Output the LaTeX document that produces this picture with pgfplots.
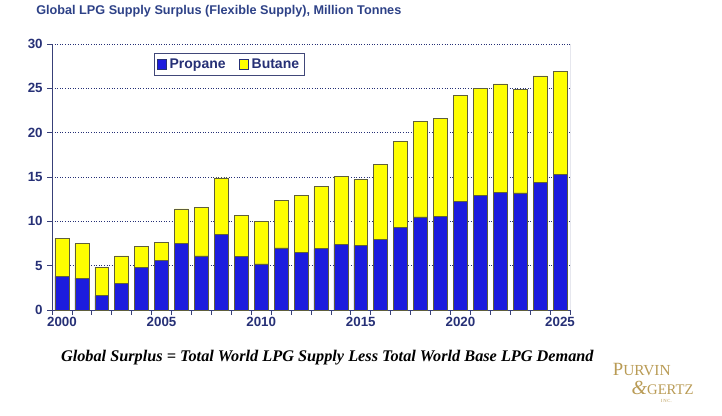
\documentclass[border=0pt]{standalone}
\usepackage{pgfplots}
\pgfplotsset{compat=1.18}
\usepackage{pgfplotstable}
\usepackage{fontspec}
\setmainfont{Liberation Sans}
\newfontfamily\timesfont{Liberation Serif}

\definecolor{navy}{RGB}{38,48,118}
\definecolor{titleblue}{RGB}{45,65,135}
\definecolor{propblue}{RGB}{28,28,222}
\definecolor{butyellow}{RGB}{255,255,0}
\definecolor{barline}{RGB}{95,95,60}
\definecolor{gold}{RGB}{185,155,85}

% year, propane, butane (million tonnes)
\pgfplotstableread{
year propane butane
2000 3.8 4.3
2001 3.6 3.9
2002 1.6 3.2
2003 3.0 3.1
2004 4.8 2.4
2005 5.6 2.0
2006 7.5 3.9
2007 6.1 5.5
2008 8.5 6.4
2009 6.0 4.7
2010 5.2 4.8
2011 7.0 5.4
2012 6.5 6.4
2013 6.9 7.0
2014 7.4 7.7
2015 7.3 7.4
2016 8.0 8.4
2017 9.3 9.7
2018 10.5 10.8
2019 10.6 11.0
2020 12.2 12.0
2021 12.9 12.1
2022 13.3 12.2
2023 13.2 11.7
2024 14.4 12.0
2025 15.3 11.6
}\lpgdata

\begin{document}
\begin{tikzpicture}[x=1pt,y=1pt]
  \path[use as bounding box] (0,0) rectangle (541.5,311.25);
  \node[anchor=west,inner sep=0,text=titleblue,font=\bfseries\fontsize{9.5}{11}\selectfont]
    at (27,302.5) {Global LPG Supply Surplus (Flexible Supply), Million Tonnes};
  \begin{axis}[
    at={(39pt,78.75pt)}, anchor=south west,
    scale only axis,
    width=388.5pt, height=199.5pt,
    ybar stacked,
    bar width=0.7,
    xmin=1999.5, xmax=2025.5,
    ymin=0, ymax=30,
    xtick={1999.5,2000.5,...,2025.5},
    xticklabels={},
    extra x ticks={2000,2005,...,2025},
    extra x tick labels={2000,2005,2010,2015,2020,2025},
    extra x tick style={major tick length=0pt},
    ytick={0,5,...,30},
    tick align=outside,
    major tick length=3.5pt,
    ymajorgrids=true,
    grid style={navy, line width=0.65pt, dash pattern=on 0.65pt off 1.3pt},
    axis x line*=bottom,
    axis y line*=left,
    axis line style={navy!80!gray, line width=0.6pt},
    tick style={navy!80!gray, line width=0.6pt},
    /pgf/number format/assume math mode=true,
    /pgf/number format/1000 sep={},
    ticklabel style={text=navy, font=\bfseries\fontsize{10}{12}\selectfont},
    xticklabel style={yshift=-2pt},
    legend columns=2,
    legend cell align=left,
    legend style={at={(0.197,0.966)}, anchor=north west,
      draw=navy!70!gray, text=navy,
      font=\bfseries\fontsize{10.5}{12}\selectfont,
      inner sep=2pt, row sep=0pt,
      /tikz/every even column/.append style={column sep=8pt}},
    legend image code/.code={\draw[#1, draw=navy, line width=0.5pt] (0pt,-3.5pt) rectangle (7pt,3.5pt);},
    ]
    \addplot[fill=propblue, draw=barline, line width=0.5pt] table[x=year, y=propane] {\lpgdata};
    \addplot[fill=butyellow, draw=barline, line width=0.5pt] table[x=year, y=butane] {\lpgdata};
    \legend{Propane, Butane}
    \draw[navy!80!gray, line width=0.6pt] (rel axis cs:1,0) -- (rel axis cs:1,1);
  \end{axis}
  \node[inner sep=0, font=\timesfont\bfseries\itshape\fontsize{12.2}{14}\selectfont]
    at (245.5,43) {Global Surplus = Total World LPG Supply Less Total World Base LPG Demand};
  % company logo, set as one block of text
  \node[anchor=north west, inner sep=0, text=gold, align=left, font=\timesfont]
    at (459.5,39) {{\fontsize{14}{12}\selectfont P\fontsize{11.5}{12}\selectfont URVIN}\\[2pt]
      \hspace*{14pt}{\fontsize{15}{12}\selectfont\itshape\&}{\fontsize{11}{12}\selectfont GERTZ}\\[-6pt]
      \hspace*{36pt}{\fontsize{3.5}{4}\selectfont I\,N\,C.}};
\end{tikzpicture}
\end{document}
